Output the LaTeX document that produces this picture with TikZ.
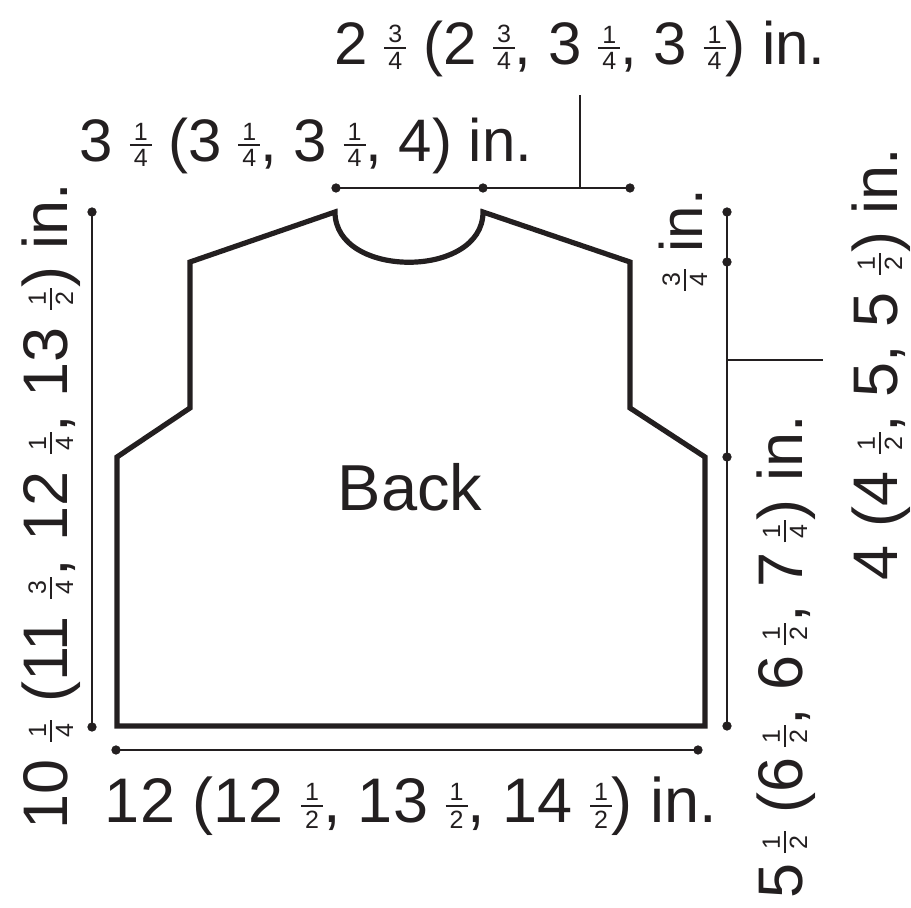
\documentclass[tikz,border=0pt]{standalone}
\usepackage{fontspec}
\setmainfont{Liberation Sans}
\usetikzlibrary{calc}

\definecolor{ink}{HTML}{231F20}

% small stacked fraction
\newcommand{\fr}[2]{{\fontsize{12.5}{12.5}\selectfont
  \setbox0\hbox{#1}\setbox2\hbox{#2}%
  \dimen0=\ifdim\wd0>\wd2 \wd0\else\wd2\fi
  \advance\dimen0 by 4pt
  \raisebox{-2.5pt}{\vbox{\hbox to\dimen0{\hss#1\hss}\kern2pt\hrule height0.8pt\kern2pt\hbox to\dimen0{\hss#2\hss}}}}}

\tikzset{
  outline/.style={ink, line width=2.6pt},
  dimline/.style={ink, line width=1pt},
  leader/.style={ink, line width=0.7pt},
  dimlabel/.style={ink, inner sep=0pt, anchor=base, font=\fontsize{31.5}{33}\selectfont},
  toplabel/.style={dimlabel, font=\fontsize{30}{32}\selectfont},
}

\begin{document}
\begin{tikzpicture}[x=0.5pt,y=-0.5pt]
\useasboundingbox (0,0) rectangle (911,908);

% the back piece
\coordinate (hemL) at (117,726);
\coordinate (sideL) at (117,457);
\coordinate (armL) at (190,408);
\coordinate (shL) at (190,262);
\coordinate (neckL) at (335,212);
\coordinate (neckR) at (483,212);
\coordinate (shR) at (630,262);
\coordinate (armR) at (630,408);
\coordinate (sideR) at (705,457);
\coordinate (hemR) at (705,726);
\draw[outline] (hemL) -- (sideL) -- (armL) -- (shL) -- (neckL)
  .. controls +(0,67) and +(0,67) .. (neckR) -- (shR) -- (armR)
  -- (sideR) -- (hemR) -- cycle;
\node[ink, inner sep=0pt, font=\fontsize{32.5}{34}\selectfont] (back) at (410,487) {Back};

% dimension lines
\coordinate (tA) at (336,188);
\coordinate (tB) at (483,188);
\coordinate (tC) at (630,188);
\coordinate (tK) at (580,188);
\coordinate (tE) at (580,95);
\draw[dimline] (tA) -- (tC);
\draw[leader] (tK) -- (tE);

\coordinate (rA) at (727,212);
\coordinate (rB) at (727,262);
\coordinate (rC) at (727,457);
\coordinate (rD) at (727,726);
\coordinate (rK) at (727,360);
\coordinate (rE) at (823,360);
\draw[dimline] (rA) -- (rD);
\draw[leader] (rK) -- (rE);

\coordinate (lA) at (92,212);
\coordinate (lB) at (92,727);
\draw[dimline] (lA) -- (lB);

\coordinate (bA) at (116,750);
\coordinate (bB) at (698,750);
\draw[dimline] (bA) -- (bB);

\foreach \p in {tA,tB,tC,rA,rB,rC,rD,lA,lB,bA,bB}
  \filldraw[ink] (\p) circle (2.1pt);

% labels
\node[toplabel] (neckw) at (580,65)
  {2 \fr{3}{4} (2 \fr{3}{4}, 3 \fr{1}{4}, 3 \fr{1}{4}) in.};
\node[toplabel] (shw) at (306,162)
  {3 \fr{1}{4} (3 \fr{1}{4}, 3 \fr{1}{4}, 4) in.};
\node[dimlabel] (hemw) at (411,823)
  {12 (12 \fr{1}{2}, 13 \fr{1}{2}, 14 \fr{1}{2}) in.};
\node[dimlabel, rotate=90] (len) at (68,506)
  {10 \fr{1}{4} (11 \fr{3}{4}, 12 \fr{1}{4}, 13 \fr{1}{2}) in.};
\node[dimlabel, rotate=90] (side) at (802,657)
  {5\,\fr{1}{2} (6\,\fr{1}{2}, 6\,\fr{1}{2}, 7\,\fr{1}{4}) in.};
\node[dimlabel, rotate=90] (arm) at (897,364)
  {4 (4 \fr{1}{2}, 5, 5 \fr{1}{2}) in.};
\node[toplabel, rotate=90] (shd) at (702,240)
  {\fr{3}{4} in.};
\end{tikzpicture}
\end{document}
